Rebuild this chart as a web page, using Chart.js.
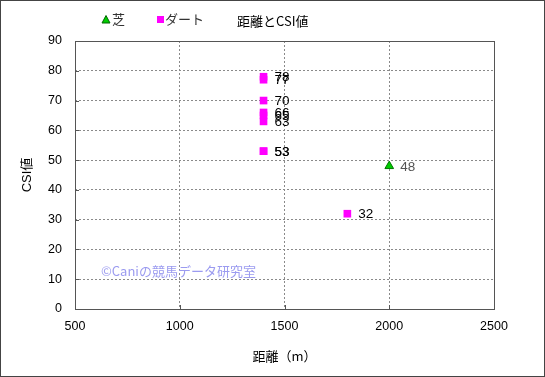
<!DOCTYPE html>
<html><head><meta charset="utf-8">
<script src="https://cdn.jsdelivr.net/npm/chart.js@4.4.1/dist/chart.umd.min.js"></script>
<style>html,body{margin:0;padding:0;background:#fff}canvas{display:block}</style>
</head><body>
<canvas id="c" width="545" height="377"></canvas>
<script>
const seriesNames = ['芝', 'ダート'];
const turfDistance = [2000];
const turfCSI = [48];
const dirtDistance = [1400, 1400, 1400, 1400, 1400, 1400, 1400, 1400, 1800];
const dirtCSI = [78, 77, 70, 66, 65, 63, 53, 53, 32];
const xTicks = [500, 1000, 1500, 2000, 2500];
const yTicks = [0, 10, 20, 30, 40, 50, 60, 70, 80, 90];
const chartTitle = '距離とCSI値';
const xTitle = '距離（m）';
const yTitle = 'CSI値';
const watermark = '©Caniの競馬データ研究室';

const FONT = "'Liberation Sans', 'Noto Sans CJK JP', sans-serif";
const JFONT = "'Noto Sans CJK JP', 'Liberation Sans', sans-serif";

const toPts = (xs, ys) => xs.map((x, i) => ({x: x, y: ys[i]}));

const decor = {
  id: 'decor',
  beforeDatasetsDraw(chart) {
    const ctx = chart.ctx, a = chart.chartArea;
    ctx.save();
    ctx.font = '13px ' + JFONT;
    ctx.fillStyle = '#9b9bf0';
    ctx.textBaseline = 'middle';
    ctx.textAlign = 'left';
    ctx.fillText(watermark, 101, 271);
    ctx.strokeStyle = '#555';
    ctx.lineWidth = 1;
    ctx.strokeRect(Math.round(a.left) + 0.5, Math.round(a.top) + 0.5, Math.round(a.right - a.left), Math.round(a.bottom - a.top));
    const ys = chart.scales.y, xs = chart.scales.x;
    ctx.beginPath();
    yTicks.forEach(v => { const p = Math.round(ys.getPixelForValue(v)) + 0.5; ctx.moveTo(a.left, p); ctx.lineTo(a.left + 4, p); });
    xTicks.forEach(v => { const p = Math.round(xs.getPixelForValue(v)) + 0.5; ctx.moveTo(p, a.bottom); ctx.lineTo(p, a.bottom - 4); });
    ctx.stroke();
    ctx.restore();
  },
  afterDatasetsDraw(chart) {
    const ctx = chart.ctx;
    ctx.save();
    ctx.font = '13.5px ' + FONT;
    ctx.textBaseline = 'middle';
    ctx.textAlign = 'left';
    chart.data.datasets.forEach((ds, di) => {
      const meta = chart.getDatasetMeta(di);
      ctx.fillStyle = di === 0 ? '#555' : '#000';
      meta.data.forEach((el, i) => {
        ctx.fillText(String(ds.data[i].y), el.x + 11, el.y + 1);
      });
    });
    ctx.restore();
  },
  afterDraw(chart) {
    const ctx = chart.ctx;
    ctx.save();
    ctx.font = '13px ' + JFONT;
    ctx.fillStyle = '#000';
    ctx.textBaseline = 'middle';
    ctx.textAlign = 'left';
    ctx.fillText(chartTitle, 237, 21);
    ctx.fillStyle = '#00cc00';
    ctx.strokeStyle = '#006600';
    ctx.beginPath();
    ctx.moveTo(106, 15.5); ctx.lineTo(110, 23); ctx.lineTo(102, 23); ctx.closePath();
    ctx.fill(); ctx.stroke();
    ctx.fillStyle = '#ff00ff';
    ctx.fillRect(157, 16, 7, 7);
    ctx.fillStyle = '#333';
    ctx.font = '13px ' + JFONT;
    ctx.fillText(seriesNames[0], 112, 19);
    ctx.fillText(seriesNames[1], 165, 19);
    ctx.strokeStyle = '#444';
    ctx.lineWidth = 1;
    ctx.strokeRect(0.5, 0.5, 544, 376);
    ctx.restore();
  }
};

new Chart(document.getElementById('c'), {
  type: 'scatter',
  data: {
    datasets: [
      {label: seriesNames[0], data: toPts(turfDistance, turfCSI), pointStyle: 'triangle', radius: 5, backgroundColor: '#00cc00', borderColor: '#007700', borderWidth: 1},
      {label: seriesNames[1], data: toPts(dirtDistance, dirtCSI), pointStyle: 'rect', radius: 5.4, backgroundColor: '#ff00ff', borderColor: '#ff00ff', borderWidth: 0}
    ]
  },
  options: {
    responsive: false,
    animation: false,
    devicePixelRatio: 1,
    layout: {padding: {top: 41, right: 51, left: 0, bottom: 0}},
    plugins: {legend: {display: false}, title: {display: false}, tooltip: {enabled: false}},
    scales: {
      x: {
        type: 'linear', min: 500, max: 2500,
        afterBuildTicks: s => { s.ticks = xTicks.map(v => ({value: v})); },
        afterFit: s => { s.height = 68; },
        ticks: {font: {family: FONT, size: 12.5}, color: '#000', padding: 10, maxRotation: 0, callback: v => String(v)},
        grid: {color: '#8a8a8a', drawTicks: false, lineWidth: 1},
        border: {display: false, dash: [2, 2]},
        title: {display: true, text: xTitle, font: {family: JFONT, size: 13}, color: '#000', padding: {bottom: 13, top: 0}}
      },
      y: {
        type: 'linear', min: 0, max: 90,
        afterBuildTicks: s => { s.ticks = yTicks.map(v => ({value: v})); },
        afterFit: s => { s.width = 75; },
        ticks: {font: {family: FONT, size: 12.5}, color: '#000', padding: 13, callback: v => String(v)},
        grid: {color: '#8a8a8a', drawTicks: false, lineWidth: 1},
        border: {display: false, dash: [2, 2]},
        title: {display: true, text: yTitle, font: {family: FONT, size: 13}, color: '#000', padding: {top: 20, bottom: 0}}
      }
    }
  },
  plugins: [decor]
});
</script>
</body></html>
